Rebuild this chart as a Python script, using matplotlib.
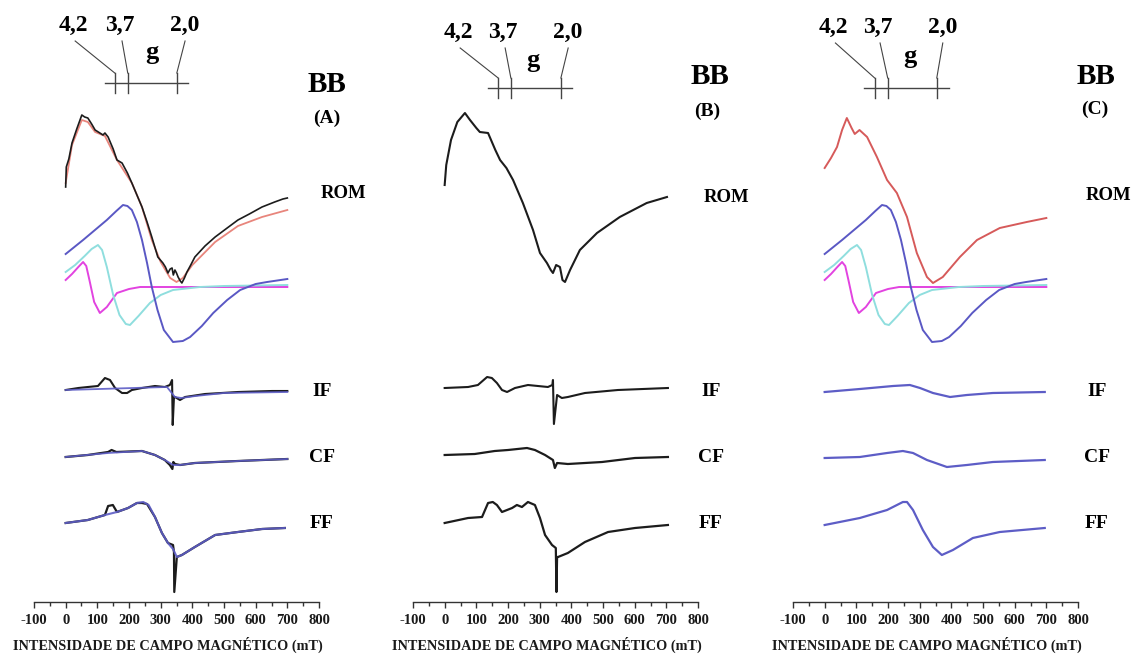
import matplotlib.pyplot as plt
import numpy as np

plt.rcParams['font.family'] = ['Liberation Serif', 'DejaVu Serif']
plt.rcParams['font.weight'] = 'bold'
plt.rcParams['axes.unicode_minus'] = False

# field values (mT) and signal amplitudes (arbitrary units)

# ---- panel A, ROM ----
rom_a_x = [0, 2, 10, 20, 35, 51, 60, 70, 82, 93, 108, 118, 124, 134, 150, 162, 178, 195, 209, 225, 241,
           257, 272, 291, 307, 315, 323, 330, 336, 340, 345, 350, 355, 362, 367, 375, 383, 395, 408,
           440, 472, 510, 544, 580, 620, 660, 686, 700]
rom_a_y = [100, 120, 128, 144, 158, 172, 170, 169, 163, 157, 154, 152, 154, 150, 138, 127, 124, 114, 104, 92, 80,
           65, 50, 30, 24, 20, 14, 18, 19, 12, 17, 14, 10, 6, 4, 9, 15, 22, 30,
           41, 50, 59, 67, 73, 80, 85, 88, 89]
rom_a_fit_x = [0, 20, 51, 70, 93, 124, 162, 209, 241, 272, 300, 330, 350, 370, 400, 472, 544, 620, 700]
rom_a_fit_y = [104, 142, 167, 165, 155, 151, 127, 104, 80, 47, 25, 9, 5, 9, 22, 45, 61, 70, 77]

# fitted components (same in A and C)
comp_blue_x = [0, 55, 100, 130, 160, 181, 195, 209, 225, 241, 257, 272, 290, 310, 339, 370, 393, 430, 466,
               510, 551, 600, 636, 700]
comp_blue_y = [33, 47, 59, 67, 76, 82, 81, 77, 65, 47, 24, 0, -23, -43, -55, -54, -50, -39, -26,
               -13, -3, 3, 5, 8]
comp_cyan_x = [0, 30, 60, 82, 102, 115, 130, 150, 170, 190, 203, 230, 266, 300, 339, 424, 500, 700]
comp_cyan_y = [15, 22, 31, 38, 42, 37, 20, -8, -28, -37, -38, -29, -16, -8, -3, 0, 1, 2]
comp_mag_x = [0, 20, 40, 55, 65, 75, 90, 108, 130, 162, 200, 235, 300, 700]
comp_mag_y = [7, 13, 20, 25, 21, 7, -15, -26, -20, -6, -2, 0, 0, 0]

# ---- panel A, fractions ----
if_a_x = [0, 40, 70, 102, 124, 140, 156, 178, 194, 209, 241, 282, 313, 329, 336, 338, 342, 345, 361, 377,
          440, 544, 652, 700]
if_a_y = [0, 2, 3, 4, 12, 10, 2, -3, -3, 0, 2, 4, 3, 5, 10, -35, -7, -7, -10, -7,
          -4, -2, -1, -1]
if_a_fit_x = [0, 320, 345, 365, 410, 500, 700]
if_a_fit_y = [0, 3, -7, -8, -6, -3, -2]
cf_a_x = [0, 70, 134, 145, 160, 241, 282, 313, 329, 337, 340, 345, 361, 408, 544, 700]
cf_a_y = [0, 2, 5, 7, 5, 6, 2, -3, -8, -12, -5, -7, -8, -6, -4, -2]
cf_a_fit_x = [0, 134, 241, 282, 313, 340, 361, 408, 544, 700]
cf_a_fit_y = [0, 4, 6, 2, -3, -8, -8, -6, -4, -2]
ff_a_x = [0, 70, 124, 134, 149, 162, 197, 225, 241, 257, 282, 304, 323, 339, 342, 343, 351, 367, 408,
          472, 544, 620, 692]
ff_a_y = [2, 5, 10, 19, 20, 13, 17, 22, 22, 21, 8, -8, -18, -20, -27, -67, -32, -30, -22,
          -10, -7, -4, -3]
ff_a_fit_x = [0, 70, 124, 162, 197, 225, 245, 262, 282, 304, 323, 339, 351, 367, 408, 472, 544, 620, 692]
ff_a_fit_y = [2, 5, 10, 13, 17, 22, 23, 20, 8, -8, -18, -24, -32, -30, -22, -10, -7, -4, -3]

# ---- panel B ----
rom_b_x = [0, 5, 20, 40, 64, 80, 100, 111, 137, 160, 175, 195, 216, 247, 279, 301, 323, 335, 342, 352,
           364, 372, 380, 396, 427, 481, 553, 638, 702]
rom_b_y = [102, 122, 147, 165, 174, 167, 159, 155, 154, 137, 127, 119, 107, 84, 57, 34, 24, 17, 14, 22,
           20, 7, 5, 17, 37, 54, 70, 84, 90]
if_b_x = [0, 74, 105, 134, 149, 165, 181, 197, 222, 263, 326, 340, 342, 345, 355, 370, 389, 443, 547, 705]
if_b_y = [2, 3, 5, 13, 12, 7, 0, -2, 2, 5, 3, 5, 10, -34, -5, -8, -7, -3, 0, 2]
cf_b_x = [0, 95, 158, 200, 260, 285, 317, 342, 348, 355, 389, 497, 601, 705]
cf_b_y = [2, 3, 6, 7, 9, 7, 2, -3, -11, -6, -7, -5, -1, 0]
ff_b_x = [0, 74, 118, 137, 152, 165, 181, 213, 228, 244, 263, 285, 301, 317, 339, 351, 353, 355, 358,
          389, 443, 516, 601, 705]
ff_b_y = [2, 7, 8, 22, 23, 20, 13, 17, 20, 18, 23, 20, 7, -10, -20, -23, -67, -32, -32,
          -28, -17, -7, -3, 0]

# ---- panel C ----
rom_c_x = [0, 20, 39, 55, 70, 85, 95, 110, 134, 165, 197, 228, 260, 291, 323, 342, 373, 427, 481, 553, 638, 700]
rom_c_y = [119, 129, 140, 157, 169, 159, 153, 157, 150, 130, 107, 94, 70, 34, 10, 4, 10, 30, 47, 59, 65, 69]
if_c_x = [0, 111, 216, 269, 301, 342, 396, 449, 531, 695]
if_c_y = [-2, 1, 4, 5, 2, -3, -7, -5, -3, -2]
cf_c_x = [0, 111, 197, 247, 279, 323, 386, 449, 531, 695]
cf_c_y = [-1, 0, 4, 6, 4, -3, -10, -8, -5, -3]
ff_c_x = [0, 111, 197, 247, 260, 279, 310, 342, 370, 405, 468, 553, 695]
ff_c_y = [0, 7, 15, 23, 23, 15, -5, -22, -30, -25, -13, -7, -3]

g_labels = ['4,2', '3,7', '2,0']
x_ticks = list(range(-100, 801, 100))
x_label = 'INTENSIDADE DE CAMPO MAGNÉTICO (mT)'

BLACK = '#1c1c1c'
PINK = '#e8857c'
RED = '#d65a5a'
BLUE = '#5a58c4'
CYAN = '#8fdede'
MAGENTA = '#e243e0'
FITBLUE = '#5d5dc6'

# baselines of the stacked traces
BASE = {'ROM': 287, 'IF': 390, 'CF': 457, 'FF': 525}

fig = plt.figure(figsize=(11.42, 6.54), dpi=100)


def trace(ax, x, y, key, **kw):
    ax.plot(x, BASE[key] - np.array(y), solid_joinstyle='round', **kw)


def panel(left_px, g):
    ax = fig.add_axes([left_px / 1142, 52 / 654, 285 / 1142, 602 / 654])
    ax.set_xlim(-100, 800)
    ax.set_ylim(602, 0)
    for s in ['left', 'right', 'top']:
        ax.spines[s].set_visible(False)
    ax.spines['bottom'].set_color('#333333')
    ax.spines['bottom'].set_linewidth(1.0)
    ax.set_yticks([])
    ax.set_xticks(x_ticks)
    ax.set_xticks(range(-50, 800, 100), minor=True)
    ax.tick_params(axis='x', which='major', length=4, width=1, pad=5, labelsize=10.5, colors='#333333',
                   labelcolor='#1a1a1a')
    ax.tick_params(axis='x', which='minor', length=3, width=1, colors='#333333')
    ax.set_xlabel(x_label, fontsize=10.3, fontweight='bold', color='#1a1a1a')
    ax.xaxis.set_label_coords(0.47, -0.058)

    # g marker
    x0, x1, ticks, ly, lab_y, lab_x, gx, gy = g
    ax.plot([x0, x1], [ly, ly], color='#444444', lw=1)
    for t in ticks:
        ax.plot([t, t], [ly - 10, ly + 10], color='#444444', lw=1)
    offs = [7, 7, 0]
    for t, lx, lab, o in zip(ticks, lab_x, g_labels, offs):
        ax.text(lx, lab_y, lab, ha='center', va='center', fontsize=17, fontweight='bold')
        ax.plot([lx + o, t], [lab_y + 16, ly - 10], color='#444444', lw=0.8)
    ax.text(gx, gy, 'g', ha='center', va='center', fontsize=19, fontweight='bold')
    return ax


# panel A
axA = panel(34, (124, 386, [155, 196, 351], 83, 25, [23, 171, 377], 272, 53))
trace(axA, comp_mag_x, comp_mag_y, 'ROM', color=MAGENTA, lw=1.4)
trace(axA, comp_cyan_x, comp_cyan_y, 'ROM', color=CYAN, lw=1.4)
trace(axA, comp_blue_x, comp_blue_y, 'ROM', color=BLUE, lw=1.4)
trace(axA, rom_a_fit_x, rom_a_fit_y, 'ROM', color=PINK, lw=1.3)
trace(axA, rom_a_x, rom_a_y, 'ROM', color=BLACK, lw=1.2)
trace(axA, if_a_x, if_a_y, 'IF', color=BLACK, lw=1.5)
trace(axA, if_a_fit_x, if_a_fit_y, 'IF', color=FITBLUE, lw=1.3, alpha=0.9)
trace(axA, cf_a_x, cf_a_y, 'CF', color=BLACK, lw=1.6)
trace(axA, cf_a_fit_x, cf_a_fit_y, 'CF', color=FITBLUE, lw=1.3, alpha=0.9)
trace(axA, ff_a_x, ff_a_y, 'FF', color=BLACK, lw=1.6)
trace(axA, ff_a_fit_x, ff_a_fit_y, 'FF', color=FITBLUE, lw=1.5, alpha=0.9)

# panel B
axB = panel(413, (137, 402, [169, 209, 367], 88, 32, [42, 184, 390], 279, 60))
trace(axB, rom_b_x, rom_b_y, 'ROM', color=BLACK, lw=1.5)
trace(axB, if_b_x, if_b_y, 'IF', color=BLACK, lw=1.5)
trace(axB, cf_b_x, cf_b_y, 'CF', color=BLACK, lw=1.6)
trace(axB, ff_b_x, ff_b_y, 'FF', color=BLACK, lw=1.6)

# panel C
axC = panel(793, (124, 392, [158, 199, 354], 88, 27, [27, 168, 373], 270, 57))
trace(axC, comp_mag_x, comp_mag_y, 'ROM', color=MAGENTA, lw=1.4)
trace(axC, comp_cyan_x, comp_cyan_y, 'ROM', color=CYAN, lw=1.4)
trace(axC, comp_blue_x, comp_blue_y, 'ROM', color=BLUE, lw=1.4)
trace(axC, rom_c_x, rom_c_y, 'ROM', color=RED, lw=1.4)
trace(axC, if_c_x, if_c_y, 'IF', color=FITBLUE, lw=1.6)
trace(axC, cf_c_x, cf_c_y, 'CF', color=FITBLUE, lw=1.6)
trace(axC, ff_c_x, ff_c_y, 'FF', color=FITBLUE, lw=1.6)

# side labels (x in mT, y in px rows)
side = {
    axA: dict(bb=(825, 85), sub=(825, 118, '(A)'), rom=(876, 193), frac=(811, 808)),
    axB: dict(bb=(838, 77), sub=(830, 111, '(B)'), rom=(891, 197), frac=(841, 841)),
    axC: dict(bb=(858, 76), sub=(852, 109, '(C)'), rom=(896, 195), frac=(859, 859)),
}
for ax, d in side.items():
    ax.text(*d['bb'], 'BB', ha='center', va='center', fontsize=21, fontweight='bold')
    ax.text(d['sub'][0], d['sub'][1], d['sub'][2], ha='center', va='center', fontsize=14, fontweight='bold')
    ax.text(*d['rom'], 'ROM', ha='center', va='center', fontsize=13.5, fontweight='bold')
    ax.text(d['frac'][0], 392, 'IF', ha='center', va='center', fontsize=14, fontweight='bold')
    ax.text(d['frac'][1], 458, 'CF', ha='center', va='center', fontsize=14, fontweight='bold')
    ax.text(d['frac'][1], 524, 'FF', ha='center', va='center', fontsize=14, fontweight='bold')

fig.savefig('out.png', dpi=100)
